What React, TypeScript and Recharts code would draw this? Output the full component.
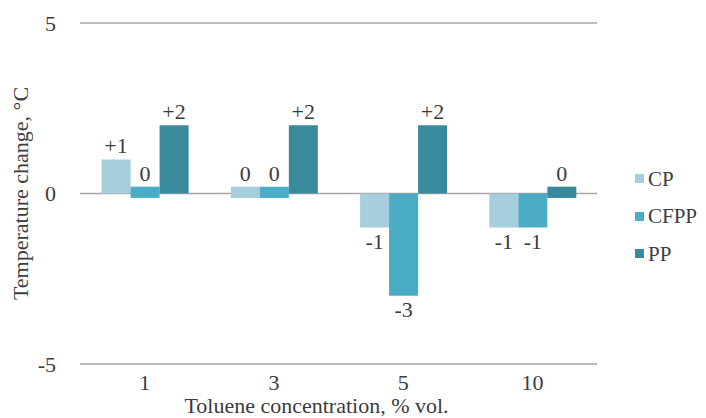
import React from 'react';
import { BarChart, Bar, XAxis, YAxis, CartesianGrid, Legend, LabelList, Rectangle, Label } from 'recharts';

const categories = ['1', '3', '5', '10'];
const cpValues = [1, 0, -1, -1];
const cfppValues = [0, 0, -3, -1];
const ppValues = [2, 2, 2, 0];
const yTicks = [-5, 0, 5];
// a zero change is drawn as a thin marker straddling the zero line
const ZERO_MARK: [number, number] = [-0.13, 0.2];

const seriesNames = ['CP', 'CFPP', 'PP'];
const seriesColors = ['#A6CEDC', '#4BACC6', '#3A8A9E'];

const fmt = (v: number) => (v > 0 ? `+${v}` : `${v}`);
const plot = (v: number) => (v === 0 ? ZERO_MARK : v);

const FONT = "'Liberation Serif', 'Times New Roman', serif";
const TEXT = '#3c3c3c';

const BarShape = (props: any) => {
  const isZero = Array.isArray(props.value);
  return <Rectangle {...props} radius={isZero ? 2 : 0} />;
};

const renderLegend = (props: any) => {
  const payload = [...(props.payload || [])].sort(
    (a: any, b: any) => seriesNames.indexOf(a.value) - seriesNames.indexOf(b.value)
  );
  return (
    <div style={{ margin: 0, padding: 0, textAlign: 'left' }}>
      {payload.map((p: any) => (
        <div
          key={p.value}
          style={{ height: 37.5, display: 'flex', alignItems: 'center', whiteSpace: 'nowrap', margin: 0, padding: 0 }}
        >
          <span style={{ display: 'inline-block', flex: '0 0 9px', width: 9, height: 9, background: p.color, marginRight: 4 }} />
          <span style={{ fontFamily: FONT, fontSize: 21, color: TEXT, lineHeight: '22px' }}>{p.value}</span>
        </div>
      ))}
    </div>
  );
};

export default function App() {
  const data = categories.map((c, i) => ({
    cat: c,
    cp: plot(cpValues[i]),
    cfpp: plot(cfppValues[i]),
    pp: plot(ppValues[i]),
    cpLabel: fmt(cpValues[i]),
    cfppLabel: fmt(cfppValues[i]),
    ppLabel: fmt(ppValues[i]),
  }));
  const keys = ['cp', 'cfpp', 'pp'];
  const tickStyle = { fill: TEXT, fontSize: 22, fontFamily: FONT };
  return (
    <BarChart
      width={698}
      height={410}
      data={data}
      margin={{ top: 15, right: 109, bottom: 0, left: 0 }}
      barCategoryGap="16.7%"
      barGap={0}
    >
      <CartesianGrid vertical={false} stroke="#A6A6A6" strokeWidth={1.5} />
      <XAxis dataKey="cat" axisLine={false} tickLine={false} tickSize={0} tickMargin={10} height={54} tick={tickStyle}>
        <Label
          value="Toluene concentration, % vol."
          position="insideBottom"
          offset={5}
          dx={-22}
          style={{ fill: TEXT, fontSize: 22, fontFamily: FONT }}
        />
      </XAxis>
      <YAxis domain={[-5, 5]} ticks={yTicks} width={72} axisLine={false} tickLine={false} tickSize={0} tickMargin={24} tick={tickStyle}>
        <Label
          value="Temperature change, °C"
          angle={-90}
          position="insideLeft"
          offset={12}
          style={{ textAnchor: 'middle', fill: TEXT, fontSize: 22, fontFamily: FONT }}
        />
      </YAxis>
      <Legend
        layout="vertical"
        align="center"
        verticalAlign="middle"
        width={70}
        height={113}
        wrapperStyle={{ left: 627, top: 152, width: 70, height: 113 }}
        content={renderLegend}
      />
      {keys.map((k, i) => (
        <Bar key={k} dataKey={k} name={seriesNames[i]} fill={seriesColors[i]} isAnimationActive={false} shape={BarShape}>
          <LabelList dataKey={`${k}Label`} position="top" offset={6} fill={TEXT} fontSize={22} fontFamily={FONT} />
        </Bar>
      ))}
    </BarChart>
  );
}
